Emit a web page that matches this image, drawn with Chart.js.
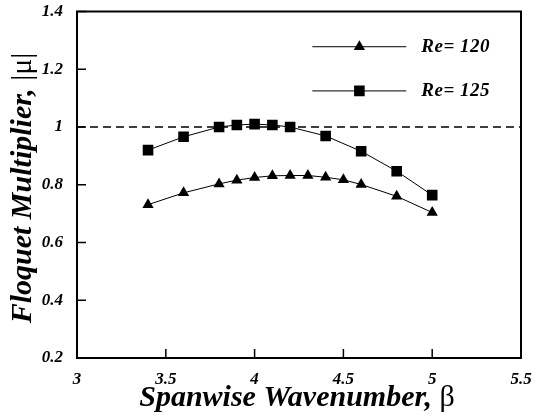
<!DOCTYPE html>
<html>
<head>
<meta charset="utf-8">
<script src="https://cdn.jsdelivr.net/npm/chart.js@4.4.0/dist/chart.umd.min.js"></script>
<style>
html,body{margin:0;padding:0;background:#fff;}
#wrap{width:539px;height:417px;position:relative;}
</style>
</head>
<body>
<div id="wrap"><canvas id="c" width="539" height="417"></canvas></div>
<script>
// ---- data ----
const betaRe120 = [3.4, 3.6, 3.8, 3.9, 4.0, 4.1, 4.2, 4.3, 4.4, 4.5, 4.6, 4.8, 5.0];
const muRe120   = [0.731, 0.772, 0.803, 0.816, 0.825, 0.831, 0.832, 0.832, 0.826, 0.817, 0.801, 0.760, 0.704];
const betaRe125 = [3.4, 3.6, 3.8, 3.9, 4.0, 4.1, 4.2, 4.4, 4.6, 4.8, 5.0];
const muRe125   = [0.920, 0.966, 1.000, 1.007, 1.010, 1.007, 1.000, 0.969, 0.916, 0.847, 0.764];
const seriesLabels = ['Re= 120', 'Re= 125'];
const xTicks = [3, 3.5, 4, 4.5, 5, 5.5];
const yTicks = [0.2, 0.4, 0.6, 0.8, 1, 1.2, 1.4];
const thresholdLine = [{x: 3, y: 1}, {x: 5.5, y: 1}];
// legend sample positions (data coordinates)
const legendLineX = [4.325, 4.59, 4.854];
const legendY = [1.278, 1.125];

const serif = '"Liberation Serif", "Times New Roman", serif';
const pts = (xs, ys) => xs.map((x, i) => ({x, y: ys[i]}));
const legendPts = (y) => legendLineX.map(x => ({x, y}));

const framePlugin = {
  id: 'frame',
  afterDraw(chart) {
    const {ctx, chartArea: a, scales} = chart;
    ctx.save();
    ctx.strokeStyle = '#000';
    // inward ticks
    ctx.lineWidth = 1.5;
    ctx.beginPath();
    xTicks.forEach(v => {
      const px = scales.x.getPixelForValue(v);
      ctx.moveTo(px, a.bottom); ctx.lineTo(px, a.bottom - 9);
    });
    yTicks.forEach(v => {
      const py = scales.y.getPixelForValue(v);
      ctx.moveTo(a.left, py); ctx.lineTo(a.left + 9, py);
    });
    ctx.stroke();
    // frame
    ctx.lineWidth = 2;
    ctx.strokeRect(a.left, a.top, a.right - a.left, a.bottom - a.top);
    // legend text
    ctx.fillStyle = '#000';
    ctx.font = 'italic bold 19px ' + serif;
    ctx.textBaseline = 'middle';
    ctx.textAlign = 'left';
    if ('letterSpacing' in ctx) ctx.letterSpacing = '0.5px';
    seriesLabels.forEach((lab, i) => {
      const y = scales.y.getPixelForValue(legendY[i]);
      const x = scales.x.getPixelForValue(legendLineX[2]) + 15;
      ctx.fillText(lab, x, y);
    });
    if ('letterSpacing' in ctx) ctx.letterSpacing = '0px';
    // x title
    ctx.textBaseline = 'alphabetic';
    const f1 = 'italic bold 30px ' + serif;
    const f2 = '30px ' + serif;
    let t1 = 'Spanwise Wavenumber, ', t2 = '\u03B2';
    ctx.font = f1; const w1 = ctx.measureText(t1).width;
    ctx.font = f2; const w2 = ctx.measureText(t2).width;
    let cx = (a.left + a.right) / 2 - 2;
    let sx = cx - (w1 + w2) / 2;
    ctx.font = f1; ctx.fillText(t1, sx, 406);
    ctx.font = f2; ctx.fillText(t2, sx + w1, 406);
    // y title
    t1 = 'Floquet Multiplier, '; t2 = '|\u03BC|';
    ctx.font = f1; const v1 = ctx.measureText(t1).width;
    ctx.font = f2; const v2 = ctx.measureText(t2).width;
    ctx.translate(31, 188);
    ctx.rotate(-Math.PI / 2);
    sx = -(v1 + v2) / 2;
    ctx.font = f1; ctx.fillText(t1, sx, 0);
    ctx.font = f2; ctx.fillText(t2, sx + v1, 0);
    ctx.restore();
  }
};

const ds = (label, data, style, radius, extra) => Object.assign({
  label, data, borderColor: '#000', backgroundColor: '#000', borderWidth: 1,
  pointStyle: style, pointRadius: radius, pointHoverRadius: radius,
  pointBackgroundColor: '#000', pointBorderColor: '#000', pointBorderWidth: 0,
  showLine: true, tension: 0
}, extra || {});

new Chart(document.getElementById('c'), {
  type: 'scatter',
  data: {
    datasets: [
      ds('threshold', thresholdLine, 'circle', 0, {borderDash: [8, 5], borderWidth: 1.5}),
      ds(seriesLabels[0], pts(betaRe120, muRe120), 'triangle', 6.5),
      ds(seriesLabels[1], pts(betaRe125, muRe125), 'rect', 7.5),
      ds('legend0', legendPts(legendY[0]), 'triangle', [0, 6.5, 0]),
      ds('legend1', legendPts(legendY[1]), 'rect', [0, 7.5, 0])
    ]
  },
  options: {
    responsive: false,
    animation: false,
    events: [],
    layout: {padding: {top: 11.5, right: 18, left: 0, bottom: 0}},
    plugins: {legend: {display: false}, tooltip: {enabled: false}},
    scales: {
      x: {
        type: 'linear', min: 3, max: 5.5,
        afterBuildTicks: s => { s.ticks = xTicks.map(v => ({value: v})); },
        afterFit: s => { s.height = 59; s.paddingLeft = 0; s.paddingRight = 0; },
        grid: {display: false}, border: {display: false},
        ticks: {color: '#000', padding: 3, maxRotation: 0,
          font: {family: serif, size: 17, style: 'italic', weight: 'bold'},
          callback: v => String(v)}
      },
      y: {
        type: 'linear', min: 0.2, max: 1.4,
        afterBuildTicks: s => { s.ticks = yTicks.map(v => ({value: v})); },
        afterFit: s => { s.width = 77; s.paddingTop = 0; s.paddingBottom = 0; },
        grid: {display: false}, border: {display: false},
        ticks: {color: '#000', padding: 6,
          font: {family: serif, size: 17, style: 'italic', weight: 'bold'},
          callback: v => String(v)}
      }
    }
  },
  plugins: [framePlugin]
});
</script>
</body>
</html>
